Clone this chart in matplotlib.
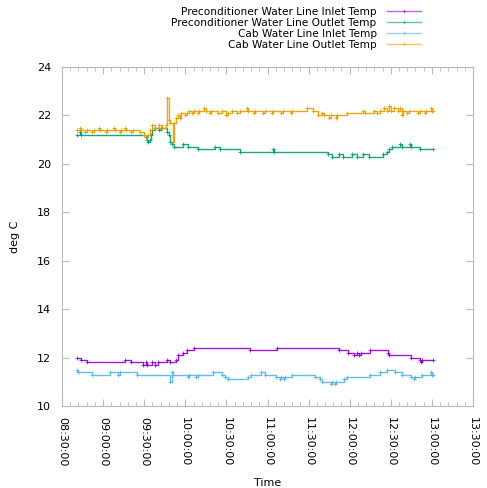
import numpy as np
import pandas as pd
import matplotlib
matplotlib.use('Agg')
import matplotlib.pyplot as plt
import matplotlib.dates as mdates

# step breakpoints (time, temperature)
pre_in_t = ["08:41", "08:44", "08:48", "09:16", "09:20", "09:29", "09:31", "09:32", "09:36",
            "09:38", "09:40", "09:47", "09:49", "09:53", "09:55", "09:58", "10:01", "10:06",
            "10:47", "11:07", "11:52", "11:59", "12:03", "12:05", "12:07", "12:08", "12:15",
            "12:28", "12:29", "12:45", "12:51", "12:52", "12:53", "13:01"]
pre_in_v = [12.0, 11.9, 11.8, 11.9, 11.8, 11.7, 11.8, 11.7, 11.8,
            11.7, 11.8, 11.9, 11.8, 11.9, 12.1, 12.2, 12.3, 12.4,
            12.3, 12.4, 12.3, 12.2, 12.1, 12.2, 12.1, 12.2, 12.3,
            12.2, 12.1, 12.0, 11.9, 11.8, 11.9, 11.9]

pre_out_t = ["08:41", "08:43", "08:44", "09:31", "09:32", "09:33", "09:34", "09:35", "09:36",
             "09:38", "09:41", "09:42", "09:47", "09:48", "09:49", "09:50", "09:52", "09:58",
             "10:02", "10:09", "10:22", "10:25", "10:40", "11:04", "11:05", "11:44", "11:47",
             "11:52", "11:55", "12:02", "12:05", "12:10", "12:14", "12:24", "12:27", "12:29",
             "12:31", "12:37", "12:38", "12:44", "12:45", "12:51", "13:01"]
pre_out_v = [21.2, 21.3, 21.2, 21.1, 21.0, 20.9, 21.0, 21.2, 21.4,
             21.5, 21.4, 21.5, 21.3, 21.2, 20.9, 20.8, 20.7, 20.8,
             20.7, 20.6, 20.7, 20.6, 20.5, 20.6, 20.5, 20.4, 20.3,
             20.4, 20.3, 20.4, 20.3, 20.4, 20.3, 20.4, 20.5, 20.6,
             20.7, 20.8, 20.7, 20.8, 20.7, 20.6, 20.6]

cab_in_t = ["08:41", "08:42", "08:52", "09:05", "09:11", "09:12", "09:25", "09:49", "09:50",
            "09:51", "10:02", "10:03", "10:08", "10:09", "10:20", "10:27", "10:29", "10:31",
            "10:46", "10:48", "10:55", "10:58", "11:06", "11:09", "11:10", "11:12", "11:13",
            "11:18", "11:35", "11:38", "11:40", "11:46", "11:47", "11:49", "11:50", "11:56",
            "11:58", "12:15", "12:22", "12:27", "12:33", "12:38", "12:45", "12:47", "12:48",
            "12:53", "12:59", "13:00", "13:01"]
cab_in_v = [11.5, 11.4, 11.3, 11.4, 11.3, 11.4, 11.3, 11.0, 11.4,
            11.3, 11.2, 11.3, 11.2, 11.3, 11.4, 11.3, 11.2, 11.1,
            11.2, 11.3, 11.4, 11.3, 11.2, 11.1, 11.2, 11.1, 11.2,
            11.3, 11.2, 11.1, 11.0, 10.9, 11.0, 10.9, 11.0, 11.1,
            11.2, 11.3, 11.4, 11.5, 11.4, 11.3, 11.2, 11.1, 11.2,
            11.3, 11.4, 11.3, 11.3]

cab_out_t = ["08:41", "08:43", "08:44", "08:47", "08:48", "08:52", "08:53", "08:57", "08:58",
             "09:02", "09:03", "09:08", "09:09", "09:12", "09:13", "09:16", "09:17", "09:20",
             "09:22", "09:27", "09:30", "09:32", "09:33", "09:34", "09:36", "09:38", "09:41",
             "09:43", "09:46", "09:47", "09:48", "09:49", "09:51", "09:52", "09:53", "09:55",
             "09:56", "09:57", "10:00", "10:01", "10:03", "10:05", "10:06", "10:09", "10:10",
             "10:14", "10:15", "10:18", "10:19", "10:24", "10:27", "10:30", "10:31", "10:34",
             "10:38", "10:40", "10:45", "10:46", "10:50", "10:51", "10:57", "10:58", "11:03",
             "11:04", "11:10", "11:11", "11:17", "11:18", "11:29", "11:33", "11:37", "11:40",
             "11:41", "11:45", "11:46", "11:50", "11:51", "11:58", "12:10", "12:11", "12:18",
             "12:20", "12:22", "12:25", "12:27", "12:29", "12:30", "12:32", "12:35", "12:37",
             "12:38", "12:39", "12:42", "12:43", "12:50", "12:51", "12:55", "12:56", "12:59",
             "13:00", "13:01"]
cab_out_v = [21.4, 21.5, 21.4, 21.3, 21.4, 21.3, 21.4, 21.5, 21.4,
             21.3, 21.4, 21.5, 21.4, 21.3, 21.4, 21.5, 21.4, 21.3,
             21.4, 21.3, 21.2, 21.1, 21.2, 21.4, 21.6, 21.5, 21.6,
             21.5, 21.6, 22.7, 21.8, 21.7, 20.9, 21.7, 21.9, 22.0,
             21.9, 22.1, 22.0, 22.1, 22.2, 22.1, 22.2, 22.1, 22.2,
             22.3, 22.2, 22.1, 22.2, 22.1, 22.2, 22.0, 22.1, 22.2,
             22.1, 22.2, 22.3, 22.2, 22.1, 22.2, 22.1, 22.2, 22.1,
             22.2, 22.1, 22.2, 22.1, 22.2, 22.3, 22.2, 22.0, 22.1,
             22.0, 21.9, 22.0, 21.9, 22.0, 22.1, 22.2, 22.1, 22.2,
             22.1, 22.2, 22.3, 22.2, 22.4, 22.2, 22.3, 22.2, 22.3,
             22.0, 22.2, 22.1, 22.2, 22.1, 22.2, 22.1, 22.2, 22.3,
             22.2, 22.2]

labels = ["Preconditioner Water Line Inlet Temp", "Preconditioner Water Line Outlet Temp",
          "Cab Water Line Inlet Temp", "Cab Water Line Outlet Temp"]
colors = ["#9400d3", "#009e73", "#56b4e9", "#e69f00"]


def to_time(ts):
    return pd.to_datetime(["2020-01-01 " + t for t in ts])


series = [(pre_in_t, pre_in_v), (pre_out_t, pre_out_v), (cab_in_t, cab_in_v), (cab_out_t, cab_out_v)]

plt.rcParams['font.family'] = 'DejaVu Sans'
plt.rcParams['font.size'] = 8

fig = plt.figure(figsize=(4.87, 4.88), dpi=100)
ax = fig.add_axes([62 / 487, 1 - 406 / 488, 411 / 487, 339 / 488])

for (ts, vs), lab, c in zip(series, labels, colors):
    ax.plot(to_time(ts), vs, drawstyle='steps-post', color=c, lw=1.0, alpha=0.9,
            marker='+', ms=2.2, mew=0.6, label=lab)

ax.set_xlim(pd.Timestamp("2020-01-01 08:30"), pd.Timestamp("2020-01-01 13:30"))
ax.set_ylim(10, 24)
ax.set_yticks(np.arange(10, 25, 2))
ax.xaxis.set_major_locator(mdates.MinuteLocator(byminute=[0, 30]))
ax.xaxis.set_minor_locator(mdates.MinuteLocator(byminute=range(0, 60, 6)))
ax.xaxis.set_major_formatter(mdates.DateFormatter('%H:%M:%S'))
for lbl in ax.get_xticklabels():
    lbl.set_rotation(270)
    lbl.set_ha('center')
    lbl.set_va('top')

border = '#b8b8b8'
for sp in ax.spines.values():
    sp.set_color(border)
    sp.set_linewidth(0.8)
ax.tick_params(which='both', direction='in', top=True, right=True, color=border,
               labelcolor='black', pad=8)
ax.tick_params(which='major', length=5)
ax.tick_params(which='minor', length=3)

ax.set_xlabel('Time', labelpad=8)
ax.set_ylabel('deg C', labelpad=12)

leg = ax.legend(loc='upper right', bbox_to_anchor=(421 / 487, 1 - 7 / 488),
                bbox_transform=fig.transFigure, frameon=False, markerfirst=False,
                borderaxespad=0, borderpad=0, labelspacing=0.1, handlelength=3.2,
                handletextpad=1.0, numpoints=1, fontsize=7.6)
for h in leg.legend_handles:
    h.set_alpha(0.6)

fig.savefig('out.png', dpi=100)
